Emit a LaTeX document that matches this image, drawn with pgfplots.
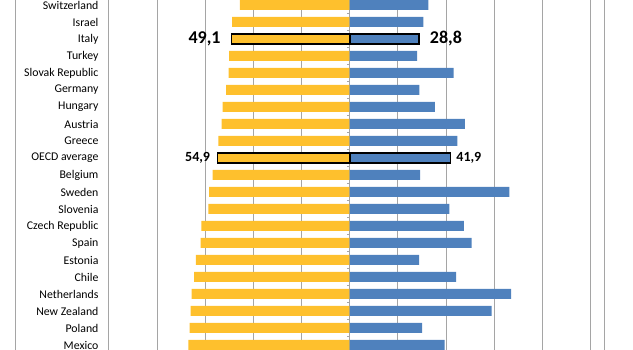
\documentclass[border=0pt]{standalone}
\usepackage{pgfplots}
\pgfplotsset{compat=1.18}
\usepackage{fontspec}
\setmainfont{Carlito}
\definecolor{orangebar}{RGB}{254,192,45}
\definecolor{bluebar}{RGB}{79,129,189}
\definecolor{gridgray}{RGB}{165,165,165}
\begin{document}
\begin{tikzpicture}[x=1pt,y=1pt]
\begin{axis}[
  at={(108.9pt,0pt)}, anchor=south west,
  scale only axis, width=495.1pt, height=350pt,
  xmin=-100, xmax=105.65, ymin=-0.294, ymax=20.294,
  axis line style={draw=none},
  xtick={-100,-80,...,100}, xticklabels={},
  xmajorgrids, major grid style={gridgray, line width=0.8pt},
  ytick={0,...,20},
  yticklabels={Mexico,Poland,New Zealand,Netherlands,Chile,Estonia,Spain,Czech Republic,Slovenia,Sweden,Belgium,OECD average,Greece,Austria,Hungary,Germany,Slovak Republic,Turkey,Italy,Israel,Switzerland},
  yticklabel style={font=\fontsize{11.8}{13}\selectfont, anchor=east, inner sep=0pt, xshift=-6pt},
  tick style={draw=none},
  xbar, bar width=10pt, bar shift=0pt,
  clip=false,
]
\addplot[xbar, fill=orangebar, draw=none] coordinates {
 (-67.0,0) (-66.5,1) (-66.1,2) (-65.6,3) (-64.6,4) (-63.9,5) (-61.9,6)
 (-61.6,7) (-58.7,8) (-58.4,9) (-56.9,10) (-54.9,11) (-54.5,12) (-53.2,13)
 (-52.8,14) (-51.3,15) (-50.3,16) (-50.1,17) (-49.1,18) (-48.8,19) (-45.6,20)
};
\addplot[xbar, fill=bluebar, draw=none] coordinates {
 (39.4,0) (30.1,1) (59.0,2) (67.1,3) (44.2,4) (28.9,5) (50.7,6)
 (47.4,7) (41.4,8) (66.3,9) (29.3,10) (41.9,11) (44.7,12) (47.9,13)
 (35.4,14) (29.0,15) (43.2,16) (28.0,17) (28.8,18) (30.6,19) (32.7,20)
};
% highlighted bars
\addplot[xbar, fill=orangebar, draw=black, line width=1.8pt,
  nodes near coords={49,1}, nodes near coords align=horizontal,
  every node near coord/.append style={font=\bfseries\fontsize{18}{18}\selectfont, text=black, inner xsep=10pt}]
  coordinates {(-49.1,18)};
\addplot[xbar, fill=bluebar, draw=black, line width=1.8pt,
  nodes near coords={28,8}, nodes near coords align=horizontal,
  every node near coord/.append style={font=\bfseries\fontsize{18}{18}\selectfont, text=black, inner xsep=10pt}]
  coordinates {(28.8,18)};
\addplot[xbar, fill=orangebar, draw=black, line width=1.8pt,
  nodes near coords={54,9}, nodes near coords align=horizontal,
  every node near coord/.append style={font=\bfseries\fontsize{14}{14}\selectfont, text=black, inner xsep=6.5pt}]
  coordinates {(-54.9,11)};
\addplot[xbar, fill=bluebar, draw=black, line width=1.8pt,
  nodes near coords={41,9}, nodes near coords align=horizontal,
  every node near coord/.append style={font=\bfseries\fontsize{14}{14}\selectfont, text=black, inner xsep=5pt}]
  coordinates {(41.9,11)};
\pgfplotsinvokeforeach{-0.5,0.5,...,19.5}{
  \draw[gridgray, line width=0.8pt] (axis cs:0,#1) -- ++(-3pt,0pt);
}
\end{axis}
\draw[gridgray, line width=0.8pt] (15pt,0pt) -- (15pt,350pt);
\draw[gridgray, line width=0.8pt] (604pt,0pt) -- (604pt,350pt);
\pgfresetboundingbox
\path (0pt,0pt) rectangle (633pt,350pt);
\end{tikzpicture}
\end{document}
